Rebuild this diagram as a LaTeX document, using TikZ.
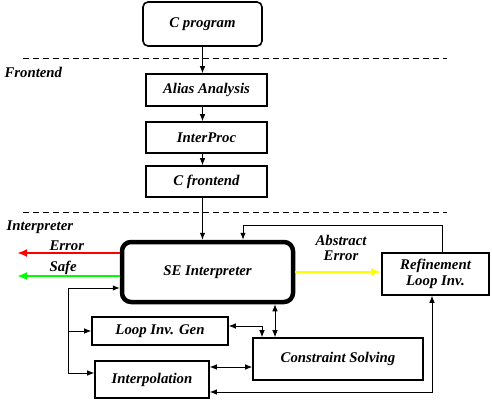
\documentclass[tikz,border=0pt]{standalone}
\usepackage{fontspec}
\setmainfont{Liberation Serif}
\usetikzlibrary{arrows.meta}
\definecolor{errred}{RGB}{255,0,0}
\definecolor{safegreen}{RGB}{0,255,0}
\definecolor{abstyellow}{RGB}{255,255,0}

\begin{document}
\begin{tikzpicture}[x=1pt,y=-1pt,
    every node/.style={font=\fontsize{14.8}{15.5}\selectfont\bfseries\itshape},
    box/.style={draw,line width=1.6pt,inner sep=0pt},
    link/.style={line width=0.8pt,-{Latex[length=7pt,width=5.5pt]}},
    blink/.style={line width=0.8pt,{Latex[length=7pt,width=5.5pt]}-{Latex[length=7pt,width=5.5pt]}},
    verdict/.style={line width=2pt,-{Latex[length=10pt,width=8pt]}},
    sep/.style={line width=0.8pt,dash pattern=on 6pt off 4pt}]
      \useasboundingbox (0,0) rectangle (492,401);
      \draw[sep] (23,58)--(447,58);
      \draw[sep] (23,212)--(447,212);
      \node[anchor=west] (frontlbl) at (1,72) {Frontend};
      \node[anchor=west] (interlbl) at (3,227) {Interpreter};
      \node[box,rounded corners=5pt,minimum width=119,minimum height=44] (cprog) at (202.5,24) {C program};
      \node[box,minimum width=121,minimum height=32] (alias) at (206.5,90) {Alias Analysis};
      \node[box,minimum width=121,minimum height=31] (interproc) at (206.5,137.5) {InterProc};
      \node[box,minimum width=121,minimum height=31] (cfront) at (206.5,181.5) {C frontend};
      \node[draw,line width=4.5pt,rounded corners=9pt,minimum width=171,minimum height=60] (se) at (207.5,272) {SE Interpreter};
      \node[box,minimum width=136,minimum height=28] (loopinv) at (160,331) {Loop Inv. Gen};
      \node[box,minimum width=114,minimum height=37] (interp) at (152,379.5) {Interpolation};
      \node[box,minimum width=170,minimum height=42] (cs) at (338,359) {Constraint Solving};
      \node[box,minimum width=107,minimum height=42,align=center] (refine) at (435.5,274) {Refinement\\Loop Inv.};
      \node[align=center] (abserr) at (341,248) {Abstract\\Error};
      \node[anchor=west] (errlbl) at (46,246) {Error};
      \node[anchor=west] (safelbl) at (46,268) {Safe};
      \coordinate (errend) at (17,253);
      \coordinate (safeend) at (17,276);
      \coordinate (fb) at (243,225);
      \coordinate (bus) at (68,288);
      \draw[link] (cprog.south)--(cprog.south |- alias.north);
      \draw[link] (cprog.south |- alias.south)--(cprog.south |- interproc.north);
      \draw[link] (cprog.south |- interproc.south)--(cprog.south |- cfront.north);
      \draw[link] (cprog.south |- cfront.south)--(cprog.south |- se.north);
      \draw[verdict,errred] (se.west |- errend)--(errend);
      \draw[verdict,safegreen] (se.west |- safeend)--(safeend);
      \draw[verdict,abstyellow] (se.east)--(se.east -| refine.west);
      \draw[link] ([xshift=6.5pt]refine.north) |- (fb)--(fb |- se.north);
      \draw[blink] ([xshift=-63pt]cs.north |- se.south)--([xshift=-63pt]cs.north);
      \draw[blink] ([yshift=5pt]loopinv.east) -| ([xshift=-76pt]cs.north);
      \draw[blink] ([yshift=12.5pt]interp.east)--([yshift=12.5pt]interp.east -| cs.west);
      \draw[blink] ([yshift=-12.5pt]interp.east) -| ([xshift=-3.5pt]refine.south);
      \draw[link] (bus)--(bus -| se.west);
      \draw[link] (bus |- loopinv.west)--(loopinv.west);
      \draw[link] (bus) |- ([yshift=6.5pt]interp.west);
    \end{tikzpicture}
\end{document}
